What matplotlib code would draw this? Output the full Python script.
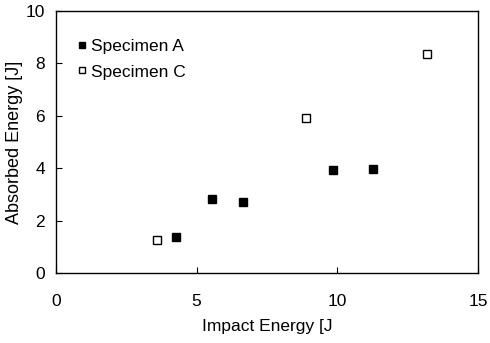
import matplotlib
matplotlib.use("Agg")
import matplotlib.pyplot as plt

plt.rcParams['font.family'] = ['Liberation Sans', 'DejaVu Sans']

a_x = [4.25, 5.55, 6.65, 9.85, 11.25]
a_y = [1.38, 2.82, 2.70, 3.92, 3.98]
c_x = [3.6, 8.9, 13.2]
c_y = [1.25, 5.92, 8.35]
xticks = [0, 5, 10, 15]
yticks = [0, 2, 4, 6, 8, 10]

fig = plt.figure(figsize=(4.9, 3.43), dpi=100)
ax = fig.add_axes([56/490, 1 - 273/343, (478-56)/490, (273-11)/343])
ax.plot(a_x, a_y, 's', color='black', markersize=5.5, label='Specimen A', linestyle='none')
ax.plot(c_x, c_y, 's', markerfacecolor='white', markeredgecolor='black', markeredgewidth=1.0,
        markersize=5.5, label='Specimen C', linestyle='none')
ax.set_xlim(0, 15)
ax.set_ylim(0, 10)
ax.set_xticks(xticks)
ax.set_yticks(yticks)
ax.tick_params(direction='in', length=4, width=0.8, labelsize=12.5)
ax.tick_params(axis='x', pad=15)
ax.tick_params(axis='y', pad=8)
ax.set_xlabel('Impact Energy [J', fontsize=12.5, labelpad=7)
ax.set_ylabel('Absorbed Energy [J]', fontsize=13, labelpad=2)
for s in ax.spines.values():
    s.set_linewidth(1.0)
ax.legend(loc='upper left', frameon=False, fontsize=12.5, handlelength=0.5, markerscale=0.9,
          handletextpad=0.3, borderaxespad=0.6, labelspacing=0.6, bbox_to_anchor=(0.01, 0.96))
fig.savefig('out.png', dpi=100)
